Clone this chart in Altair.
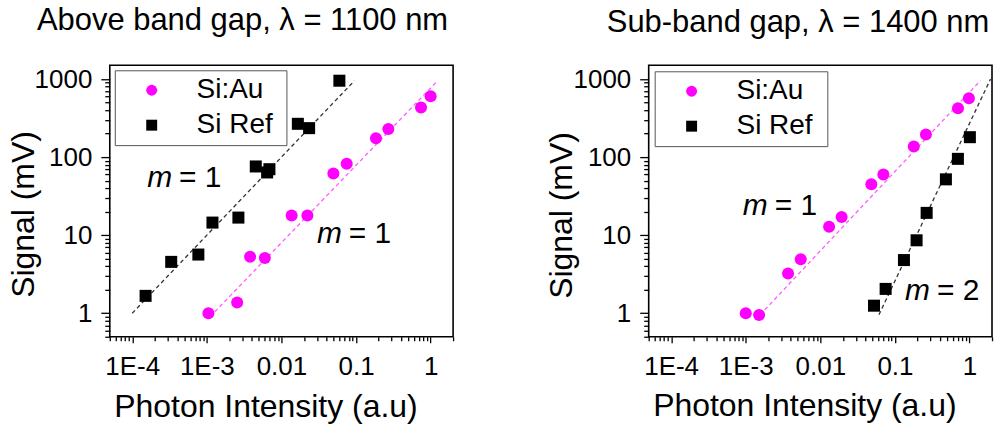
import math
import altair as alt
import pandas as pd

FONT = "Liberation Sans"
MAGENTA = "#ff00ff"
PINK_LINE = "#ff5cff"
GRAY_LINE = "#333333"

SERIES = ["Si:Au", "Si Ref"]

# ---------------- Left panel: above band gap, 1100 nm ----------------
left_au_x = [1.05e-3, 2.55e-3, 3.8e-3, 6.0e-3, 0.0137, 0.0223, 0.0497, 0.075, 0.185, 0.271, 0.743, 1.0]
left_au_y = [1.0, 1.37, 5.3, 5.1, 17.9, 17.9, 61.7, 82, 175, 229, 433, 600]
left_ref_x = [1.51e-4, 3.33e-4, 7.7e-4, 1.19e-3, 2.65e-3, 4.53e-3, 6.43e-3, 6.9e-3, 0.0166, 0.0235, 0.0598]
left_ref_y = [1.67, 4.55, 5.65, 14.5, 16.8, 75.9, 63.6, 70, 267, 235, 952]
left_fit_au_x = [1.1e-3, 1.24]
left_fit_au_y = [0.9, 950]
left_fit_ref_x = [1e-4, 0.095]
left_fit_ref_y = [1.0, 950]
left_ann_x = [3.75e-4, 0.0708]
left_ann_y = [41.6, 7.9]
left_ann_rhs = ["= 1", "= 1"]

# ---------------- Right panel: sub-band gap, 1400 nm ----------------
right_au_x = [1.0e-3, 1.51e-3, 3.69e-3, 5.46e-3, 0.0131, 0.0193, 0.0482, 0.0699, 0.179, 0.26, 0.70, 0.98]
right_au_y = [1.0, 0.95, 3.24, 4.9, 12.8, 17.1, 44.8, 60, 137, 195, 422, 567]
right_ref_x = [0.0524, 0.075, 0.132, 0.195, 0.266, 0.482, 0.698, 1.01]
right_ref_y = [1.25, 2.05, 4.8, 8.6, 19.3, 51.9, 95, 180]
right_fit_au_x = [1.55e-3, 1.40]
right_fit_au_y = [0.95, 955]
right_fit_ref_x = [0.061, 1.91]
right_fit_ref_y = [0.955, 1000]
right_ann_x = [2.16e-3, 0.324]
right_ann_y = [18.1, 1.48]
right_ann_rhs = ["= 1", "= 2"]

# ---------------- Axes ----------------
X_DOMAIN = [5e-5, 2]
Y_DOMAIN = [0.5, 1500]
x_major_exp = [-4, -3, -2, -1, 0]
x_major_labels = ["1E-4", "1E-3", "0.01", "0.1", "1"]
y_major_exp = [0, 1, 2, 3]
y_major_labels = ["1", "10", "100", "1000"]


def tick_values(domain, exps):
    vals = []
    for e in range(min(exps) - 1, max(exps) + 2):
        for m in range(1, 10):
            v = m * 10.0 ** e
            if domain[0] * 0.999 <= v <= domain[1] * 1.001:
                vals.append(float(f"{v:.6g}"))
    return vals


LOG = "round(log(datum.value)/LN10)"
MAJOR_TEST = f"abs(log(datum.value)/LN10 - {LOG}) < 0.001"


def label_expr(exps, labels):
    expr = "''"
    for e, lab in zip(reversed(exps), reversed(labels)):
        expr = f"({LOG} == {e} ? '{lab}' : {expr})"
    return f"{MAJOR_TEST} ? {expr} : ''"


def x_axis(title_x, title_y):
    return alt.Axis(
        values=tick_values(X_DOMAIN, x_major_exp),
        labelExpr=label_expr(x_major_exp, x_major_labels),
        tickSize={"condition": {"test": MAJOR_TEST, "value": 6}, "value": 4},
        tickColor="black", tickWidth=1.3, domain=False, grid=False,
        labelFont=FONT, labelFontSize=26, labelColor="black", labelPadding=11,
        labelOverlap=False, labelFlush=False,
        title="Photon Intensity (a.u)", titleFont=FONT, titleFontSize=32,
        titleFontWeight="normal", titleColor="black", titleX=title_x, titleY=title_y,
        titleAlign="center", titleBaseline="alphabetic",
    )


def y_axis(title_x, title_y):
    return alt.Axis(
        values=tick_values(Y_DOMAIN, y_major_exp),
        labelExpr=label_expr(y_major_exp, y_major_labels),
        tickSize={"condition": {"test": MAJOR_TEST, "value": 9}, "value": 5},
        tickColor="black", tickWidth=1.3, domain=False, grid=False,
        labelFont=FONT, labelFontSize=26, labelColor="black", labelPadding=9,
        labelOverlap=False, labelFlush=False,
        title="Signal (mV)", titleFont=FONT, titleFontSize=32,
        titleFontWeight="normal", titleColor="black", titleAngle=-90,
        titleX=title_x, titleY=title_y, titleAlign="center", titleBaseline="alphabetic",
    )


def panel(au_x, au_y, ref_x, ref_y, fau_x, fau_y, fref_x, fref_y, ann_x, ann_y, ann_rhs,
          title_text, title_dx, title_offset, leg_x, leg_y, leg_extra, xt, yt):
    xs = alt.Scale(type="log", domain=X_DOMAIN, nice=False)
    ys = alt.Scale(type="log", domain=Y_DOMAIN, nice=False)
    X = alt.X("x:Q", scale=xs, axis=x_axis(*xt))
    Y = alt.Y("y:Q", scale=ys, axis=y_axis(*yt))

    pts = pd.DataFrame({
        "x": au_x + ref_x,
        "y": au_y + ref_y,
        "series": [SERIES[0]] * len(au_x) + [SERIES[1]] * len(ref_x),
    })
    fit_au = pd.DataFrame({"x": fau_x, "y": fau_y})
    fit_ref = pd.DataFrame({"x": fref_x, "y": fref_y})
    ann = pd.DataFrame({"x": ann_x, "y": ann_y, "lhs": ["m"] * len(ann_x), "rhs": ann_rhs})

    # an invisible spacer title on the right widens the framed legend box
    legend = alt.Legend(
        title=".", titleOrient="right", titleColor="white", titleFontSize=4,
        titlePadding=leg_extra,
        orient="none", legendX=leg_x, legendY=leg_y,
        strokeColor="#555555", padding=6, fillColor="white",
        labelFont=FONT, labelFontSize=28, labelColor="black",
        symbolSize=120, symbolStrokeWidth=0, symbolOffset=17, labelOffset=31,
        rowPadding=7,
    )

    lines_au = alt.Chart(fit_au).mark_line(
        color=PINK_LINE, strokeDash=[4, 3], strokeWidth=1.3, clip=True
    ).encode(x=X, y=Y)
    lines_ref = alt.Chart(fit_ref).mark_line(
        color=GRAY_LINE, strokeDash=[4, 3], strokeWidth=1.3, clip=True
    ).encode(x=X, y=Y)

    points = alt.Chart(pts).mark_point(filled=True, opacity=1, strokeWidth=0).encode(
        x=X, y=Y,
        color=alt.Color("series:N", scale=alt.Scale(domain=SERIES, range=[MAGENTA, "#000000"]), legend=legend),
        shape=alt.Shape("series:N", scale=alt.Scale(domain=SERIES, range=["circle", "square"]), legend=legend),
        size=alt.value(145),
    )

    ann_m = alt.Chart(ann).mark_text(
        font=FONT, fontSize=30, fontStyle="italic", align="right", baseline="alphabetic",
        dx=-3, color="black"
    ).encode(x=X, y=Y, text="lhs:N")
    ann_r = alt.Chart(ann).mark_text(
        font=FONT, fontSize=30, align="left", baseline="alphabetic", dx=4, color="black"
    ).encode(x=X, y=Y, text="rhs:N")

    return alt.layer(lines_ref, lines_au, points, ann_m, ann_r).properties(
        width=344, height=272,
        title=alt.TitleParams(
            title_text, anchor="start", frame="group", dx=title_dx, offset=title_offset,
            font=FONT, fontSize=31, fontWeight="normal", color="black", baseline="alphabetic",
        ),
    )


left = panel(left_au_x, left_au_y, left_ref_x, left_ref_y,
             left_fit_au_x, left_fit_au_y, left_fit_ref_x, left_fit_ref_y,
             left_ann_x, left_ann_y, left_ann_rhs,
             "Above band gap, \u03bb = 1100 nm", -73, 4, 5, 5, 6, (156, 80), (-76, 149))
right = panel(right_au_x, right_au_y, right_ref_x, right_ref_y,
              right_fit_au_x, right_fit_au_y, right_fit_ref_x, right_fit_ref_y,
              right_ann_x, right_ann_y, right_ann_rhs,
              "Sub-band gap, \u03bb = 1400 nm", -42, 2, 6, 6, 7, (156, 79), (-77, 150))

chart = alt.hconcat(left, right, spacing=90).resolve_legend(
    color="independent", shape="independent"
).resolve_scale(color="independent", shape="independent").properties(
    padding={"left": 7, "top": 4, "right": 0, "bottom": 0},
    background="white",
).configure_view(stroke="black", strokeWidth=1.6)

chart.save("out.html", embed_options={"renderer": "svg", "actions": False})
